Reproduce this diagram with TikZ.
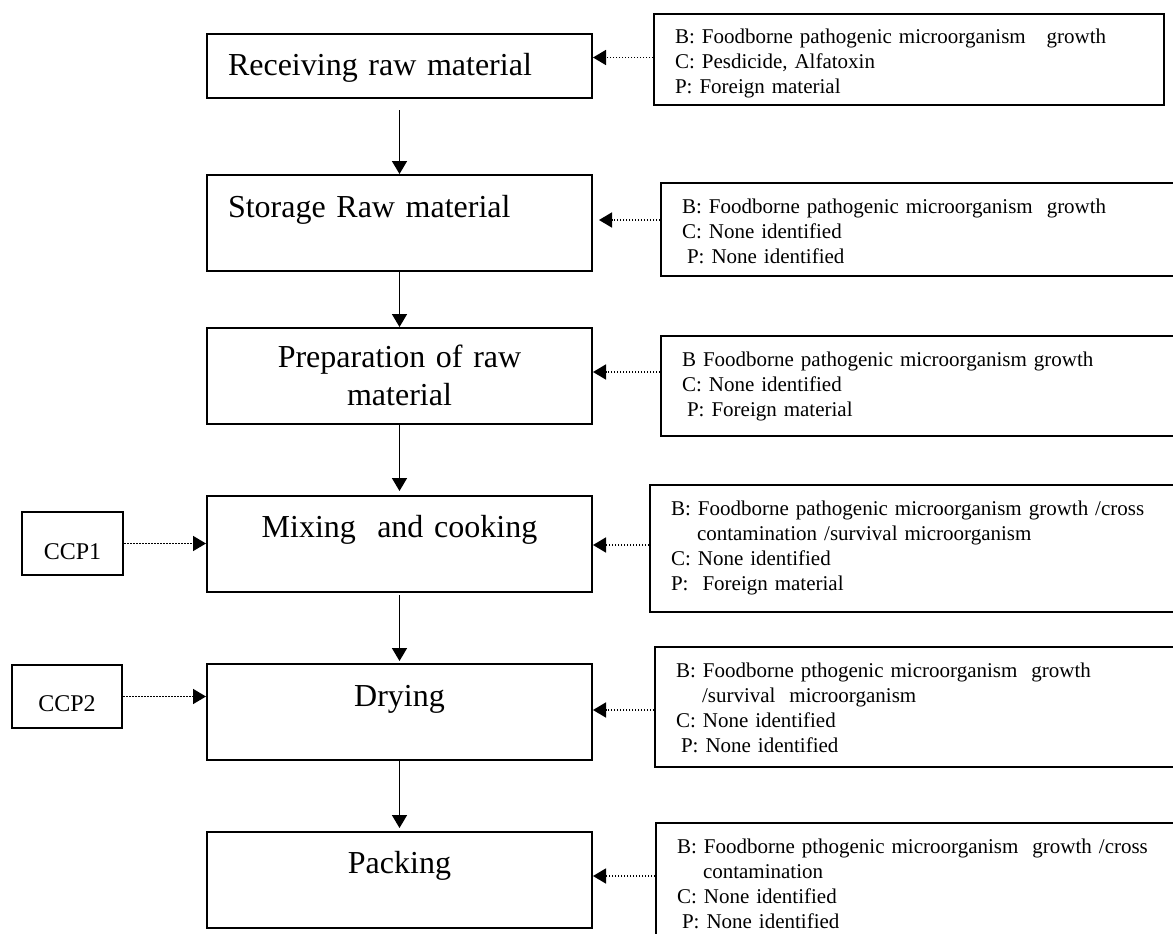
\documentclass[tikz,border=0pt]{standalone}
\usepackage{fontspec}
\setmainfont{Liberation Serif}
\usepackage{tikz}
\usetikzlibrary{arrows.meta}
\tikzstyle{stage} = [rectangle,
minimum width=385pt,
minimum height=96pt,
inner xsep=21pt,
inner ysep=0pt,
text width=343pt,
align=center,
text height=42pt,
text depth=54pt,
draw=black,
line width=2pt,
font=\fontsize{32}{38}\selectfont]
\tikzstyle{hazard} = [rectangle,
anchor=north west,
inner xsep=21pt,
inner ysep=15pt,
text width=490pt,
align=left,
text height=15pt,
draw=black,
line width=2pt,
font=\fontsize{21}{25}\selectfont]
\tikzstyle{ccp} = [rectangle,
minimum height=63pt,
inner sep=0pt,
text height=47pt,
text depth=16pt,
draw=black,
line width=2pt,
font=\fontsize{24}{28}\selectfont]
\tikzstyle{arrow} = [line width=1.7pt,-{Triangle[length=13pt,width=15pt]}]
\tikzstyle{dotarrow} = [line width=1.6pt,dash pattern=on 1.5pt off 1.5pt,
-{Triangle[length=13pt,width=15pt]}]

\begin{document}
\begin{tikzpicture}[x=1pt,y=-1pt,node distance=168pt]
\useasboundingbox (0,0) rectangle (1173,934);

% main process steps
\node (recv) [stage, align=left, minimum height=64pt, text depth=22pt] at (399.5,66) {Receiving raw material};
\node (store) [stage, align=left, below of=recv, yshift=11pt] {Storage Raw material};
\node (prep) [stage, below of=store, yshift=15pt, text height=39pt, text depth=57pt] {Preparation of raw\\ material};
\node (mix) [stage, below of=prep, text height=41pt, text depth=55pt] {Mixing\ \ and cooking};
\node (dry) [stage, below of=mix] {Drying};
\node (pack) [stage, below of=dry, text height=41pt, text depth=55pt] {Packing};

% critical control points
\node (ccp1) [ccp, minimum width=101pt] at (72.5,543.5) {CCP1};
\node (ccp2) [ccp, minimum width=110pt, text height=46pt, text depth=17pt] at (67,696.5) {CCP2};

% hazards
\node (haz1) [hazard, text width=468pt, text depth=46pt] at (653,13) {B: Foodborne pathogenic microorganism\ \ \ growth\\ C: Pesdicide, Alfatoxin\\ P: Foreign material};
\node (haz2) [hazard, text depth=48pt] at (660,182) {B: Foodborne pathogenic microorganism\ \ growth\\ C: None identified\\ \hspace*{5pt}P: None identified};
\node (haz3) [hazard, text depth=55pt] at (660,335) {B Foodborne pathogenic microorganism growth\\ C: None identified\\ \hspace*{5pt}P: Foreign material};
\node (haz4) [hazard, text depth=82pt] at (649,484) {B: Foodborne pathogenic microorganism growth /cross\\ \hspace*{26pt}contamination /survival microorganism\\ C: None identified\\ P:\ \ Foreign material};
\node (haz5) [hazard, text depth=75pt] at (654,646) {B: Foodborne pthogenic microorganism\ \ growth\\ \hspace*{26pt}/survival\ \ microorganism\\ C: None identified\\ \hspace*{5pt}P: None identified};
\node (haz6) [hazard, text depth=90pt] at (655,822) {B: Foodborne pthogenic microorganism\ \ growth /cross\\ \hspace*{26pt}contamination\\ C: None identified\\ \hspace*{5pt}P: None identified};

\draw [arrow, shorten <=11pt] (recv) -- (store);
\draw [arrow] (store) -- (prep);
\draw [arrow, shorten >=4pt] (prep) -- (mix);
\draw [arrow, shorten <=2pt, shorten >=2pt] (mix) -- (dry);
\draw [arrow, shorten >=3pt] (dry) -- (pack);

\draw [dotarrow] (ccp1.east) -- (ccp1.east -| mix.west);
\draw [dotarrow] (ccp2.east) -- (ccp2.east -| dry.west);

\draw [dotarrow] ([yshift=2pt]haz1.west) -- ([yshift=2pt]haz1.west -| recv.east);
\draw [dotarrow, shorten >=6pt] ([yshift=9.5pt]haz2.west) -- ([yshift=9.5pt]haz2.west -| store.east);
\draw [dotarrow] ([yshift=14pt]haz3.west) -- ([yshift=14pt]haz3.west -| prep.east);
\draw [dotarrow] ([yshift=3.5pt]haz4.west) -- ([yshift=3.5pt]haz4.west -| mix.east);
\draw [dotarrow] ([yshift=-3pt]haz5.west) -- ([yshift=-3pt]haz5.west -| dry.east);
\draw [dotarrow] ([yshift=14.5pt]haz6.west) -- ([yshift=14.5pt]haz6.west -| pack.east);

\end{tikzpicture}
\end{document}
